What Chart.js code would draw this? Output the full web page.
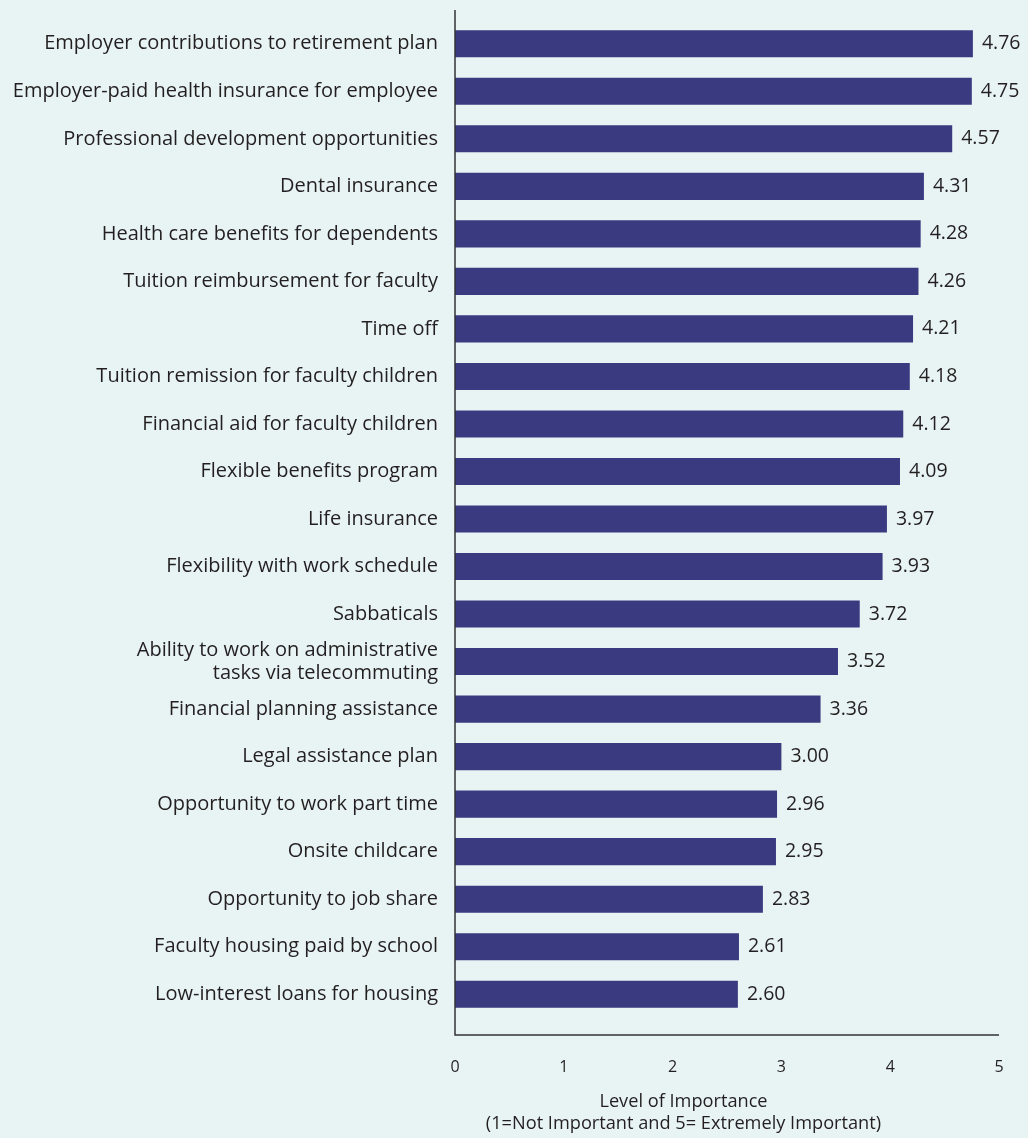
<!DOCTYPE html>
<html>
<head>
<meta charset="utf-8">
<script src="https://cdn.jsdelivr.net/npm/chart.js@4"></script>
<style>
  html, body { margin: 0; padding: 0; background: #e8f4f4; }
  #wrap { width: 1028px; height: 1138px; }
</style>
</head>
<body>
<div id="wrap"><canvas id="c" width="1028" height="1138"></canvas></div>
<script>
const categories = [
  "Employer contributions to retirement plan",
  "Employer-paid health insurance for employee",
  "Professional development opportunities",
  "Dental insurance",
  "Health care benefits for dependents",
  "Tuition reimbursement for faculty",
  "Time off",
  "Tuition remission for faculty children",
  "Financial aid for faculty children",
  "Flexible benefits program",
  "Life insurance",
  "Flexibility with work schedule",
  "Sabbaticals",
  ["Ability to work on administrative", "tasks via telecommuting"],
  "Financial planning assistance",
  "Legal assistance plan",
  "Opportunity to work part time",
  "Onsite childcare",
  "Opportunity to job share",
  "Faculty housing paid by school",
  "Low-interest loans for housing"
];
const importance = [4.76, 4.75, 4.57, 4.31, 4.28, 4.26, 4.21, 4.18, 4.12, 4.09, 3.97, 3.93, 3.72, 3.52, 3.36, 3.00, 2.96, 2.95, 2.83, 2.61, 2.60];
const xTicks = [0, 1, 2, 3, 4, 5];
const axisTitle = ["Level of Importance", "(1=Not Important and 5= Extremely Important)"];

const FONT = "'Open Sans', 'DejaVu Sans', sans-serif";
const TEXT = "#231f20";

const extras = {
  id: 'extras',
  afterDatasetsDraw(chart) {
    const ctx = chart.ctx;
    const meta = chart.getDatasetMeta(0);
    ctx.save();
    ctx.fillStyle = TEXT;
    ctx.font = "19.5px " + FONT;
    ctx.textAlign = 'left';
    ctx.textBaseline = 'middle';
    meta.data.forEach((bar, i) => {
      ctx.fillText(importance[i].toFixed(2), bar.x + 9, bar.y);
    });
    ctx.restore();
  },
  afterDraw(chart) {
    const ctx = chart.ctx;
    const a = chart.chartArea;
    const xs = chart.scales.x;
    ctx.save();
    ctx.strokeStyle = "#333333";
    ctx.lineWidth = 1.5;
    ctx.beginPath();
    ctx.moveTo(a.left, a.top - 10);
    ctx.lineTo(a.left, a.bottom + 17);
    ctx.lineTo(xs.getPixelForValue(5), a.bottom + 17);
    ctx.stroke();
    ctx.fillStyle = TEXT;
    ctx.font = "18.2px " + FONT;
    ctx.textAlign = 'center';
    ctx.textBaseline = 'middle';
    const cx = xs.getPixelForValue(2.1);
    ctx.fillText(axisTitle[0], cx, a.bottom + 84);
    ctx.fillText(axisTitle[1], cx, a.bottom + 106);
    ctx.restore();
  }
};

new Chart(document.getElementById('c'), {
  type: 'bar',
  data: {
    labels: categories,
    datasets: [{
      data: importance,
      backgroundColor: '#393a80',
      borderWidth: 0,
      barPercentage: 0.57,
      categoryPercentage: 1.0
    }]
  },
  options: {
    indexAxis: 'y',
    responsive: false,
    animation: false,
    layout: { padding: { top: 20, left: 0, right: 29, bottom: 0 } },
    plugins: { legend: { display: false }, tooltip: { enabled: false } },
    scales: {
      x: {
        min: 0, max: 5,
        afterBuildTicks(scale) { scale.ticks = xTicks.map(v => ({ value: v })); },
        afterFit(scale) {
          scale.height = 120;
          scale.paddingLeft = 0; scale.paddingRight = 0;
          scale.paddingTop = 0; scale.paddingBottom = 0;
        },
        grid: { display: false, drawTicks: false },
        border: { display: false },
        ticks: { padding: 40, color: TEXT, font: { family: FONT, size: 16 } }
      },
      y: {
        afterFit(scale) {
          scale.width = 455;
          scale.paddingLeft = 0; scale.paddingRight = 0;
          scale.paddingTop = 0; scale.paddingBottom = 0;
        },
        grid: { display: false, drawTicks: false },
        border: { display: false },
        ticks: { padding: 17, color: TEXT, font: { family: FONT, size: 20, lineHeight: 1.15 }, autoSkip: false }
      }
    }
  },
  plugins: [extras]
});
</script>
</body>
</html>
